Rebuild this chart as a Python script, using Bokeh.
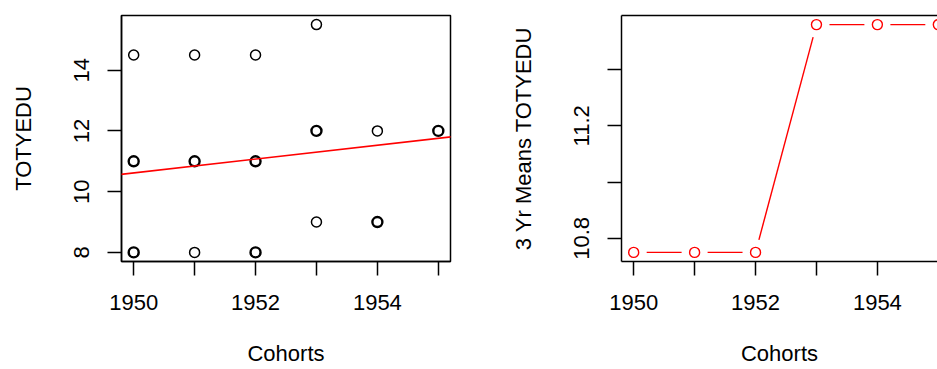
import numpy as np
from bokeh.plotting import figure
from bokeh.layouts import row
from bokeh.models import Range1d, FixedTicker, LinearAxis, Slope, ColumnDataSource
from bokeh.embed import file_html
from bokeh.resources import INLINE

# ---------------- data ----------------
cohort = [1950, 1950, 1950, 1951, 1951, 1951, 1952, 1952, 1952,
          1953, 1953, 1953, 1954, 1954, 1955]
totyedu = [8, 11, 14.5, 8, 11, 14.5, 8, 11, 14.5,
           9, 12, 15.5, 9, 12, 12]
n_obs = [3, 3, 1, 1, 3, 1, 2, 3, 1, 1, 3, 1, 2, 1, 2]   # overlapping observations

fit_at_1950 = 10.615   # fitted TOTYEDU at 1950
fit_slope = 0.228      # per cohort year

mean_cohort = [1950, 1951, 1952, 1953, 1954, 1955]
mean_totyedu = [10.75, 10.75, 10.75, 11.56, 11.56, 11.56]

x_ticks = [1950, 1951, 1952, 1953, 1954, 1955]
x_tick_labels = ["1950", "", "1952", "", "1954", ""]
y_ticks_left = [8, 10, 12, 14]
y_ticks_right = [10.8, 11.0, 11.2, 11.4]
y_tick_labels_right = ["10.8", "", "11.2", ""]

# ---------------- layout constants ----------------
FONT = "Liberation Sans"
FS = "22px"
FIG_H = 369
B_TOP, B_BOTTOM = 15, 108
FRAME_H = FIG_H - B_TOP - B_BOTTOM
L_W, L_BL, L_BR = 468, 121, 18
R_W, R_BL, R_BR = 469, 153, 0
FULL_FRAME_W = L_W - L_BL - L_BR        # R panel frame is as wide as the left one
R_FRAME_W = R_W - R_BL - R_BR           # only part of it is visible


def rpad(lo, hi):
    d = (hi - lo) * 0.04
    return lo - d, hi + d


def style(p, yticks, ylabels, y_lab_standoff, y_axis_standoff):
    p.toolbar_location = None
    p.grid.visible = False
    p.background_fill_color = "white"
    p.border_fill_color = "white"
    for ax in p.xaxis + p.yaxis:
        ax.axis_line_color = "black"
        ax.axis_line_width = 1.5
        ax.major_tick_line_color = "black"
        ax.major_tick_line_width = 1.5
        ax.major_tick_in = 0
        ax.major_tick_out = 14
        ax.minor_tick_line_color = None
        ax.major_label_text_font = FONT
        ax.major_label_text_font_size = FS
        ax.major_label_text_color = "black"
        ax.axis_label_text_font = FONT
        ax.axis_label_text_font_size = FS
        ax.axis_label_text_font_style = "normal"
        ax.axis_label_text_color = "black"
    xa = p.xaxis[0]
    xa.ticker = FixedTicker(ticks=x_ticks)
    xa.major_label_overrides = {t: s for t, s in zip(x_ticks, x_tick_labels)}
    xa.major_label_standoff = 19
    xa.axis_label_standoff = 28
    ya = p.yaxis[0]
    ya.ticker = FixedTicker(ticks=yticks)
    if ylabels is not None:
        ya.major_label_overrides = {t: s for t, s in zip(yticks, ylabels)}
    ya.major_label_orientation = "vertical"
    ya.major_label_standoff = y_lab_standoff
    ya.axis_label_standoff = y_axis_standoff


# ---------------- left panel ----------------
xl0, xl1 = rpad(min(cohort), max(cohort))
yl0, yl1 = rpad(min(totyedu), max(totyedu))

p1 = figure(width=L_W, height=FIG_H, output_backend="svg", toolbar_location=None,
            x_range=Range1d(xl0, xl1), y_range=Range1d(yl0, yl1),
            min_border_left=L_BL, min_border_right=L_BR,
            min_border_top=B_TOP, min_border_bottom=B_BOTTOM,
            x_axis_label="Cohorts", y_axis_label="TOTYEDU")
p1.outline_line_color = "black"
p1.outline_line_width = 1.5
p1.outline_line_alpha = 1.0
style(p1, y_ticks_left, None, 18, 36)

src = ColumnDataSource(dict(x=cohort, y=totyedu,
                            lw=[1.5 if n == 1 else 2.4 for n in n_obs]))
p1.scatter("x", "y", source=src, marker="circle", size=10, fill_color=None,
           line_color="black", line_width="lw")
p1.add_layout(Slope(gradient=fit_slope, y_intercept=fit_at_1950 - fit_slope * 1950,
                    line_color="red", line_width=1.6))

# ---------------- right panel ----------------
xr0, xr1_full = rpad(min(mean_cohort), max(mean_cohort))
xr1 = xr0 + (xr1_full - xr0) * R_FRAME_W / FULL_FRAME_W
yr0, yr1 = rpad(min(mean_totyedu), max(mean_totyedu))

p2 = figure(width=R_W, height=FIG_H, output_backend="svg", toolbar_location=None,
            x_range=Range1d(xr0, xr1), y_range=Range1d(yr0, yr1),
            min_border_left=R_BL, min_border_right=R_BR,
            min_border_top=B_TOP, min_border_bottom=B_BOTTOM,
            x_axis_label="Cohorts", y_axis_label="3 Yr Means TOTYEDU")
p2.outline_line_color = None
style(p2, y_ticks_right, y_tick_labels_right, 18, 36)
top = LinearAxis(ticker=FixedTicker(ticks=[]), axis_line_color="black", axis_line_width=1.5,
                 major_tick_out=0, major_tick_in=0, minor_tick_out=0, minor_tick_in=0,
                 major_label_text_font_size="0px", major_label_standoff=0)
p2.add_layout(top, "above")

# type="b": line segments with gaps around the points
sx = R_FRAME_W / (xr1 - xr0)
sy = FRAME_H / (yr1 - yr0)
gap = 13.0
sx0, sy0, sx1, sy1 = [], [], [], []
for i in range(len(mean_cohort) - 1):
    xa, ya = mean_cohort[i], mean_totyedu[i]
    xb, yb = mean_cohort[i + 1], mean_totyedu[i + 1]
    dx, dy = (xb - xa) * sx, (yb - ya) * sy
    L = np.hypot(dx, dy)
    if L > 2 * gap:
        ux, uy = dx / L, dy / L
        sx0.append(xa + gap * ux / sx); sy0.append(ya + gap * uy / sy)
        sx1.append(xb - gap * ux / sx); sy1.append(yb - gap * uy / sy)
p2.segment(sx0, sy0, sx1, sy1, line_color="red", line_width=1.4)
p2.scatter(mean_cohort, mean_totyedu, marker="circle", size=10, fill_color=None,
           line_color="red", line_width=1.4)

layout = row(p1, p2, spacing=0)
open("out.html", "w").write(file_html(layout, INLINE))
